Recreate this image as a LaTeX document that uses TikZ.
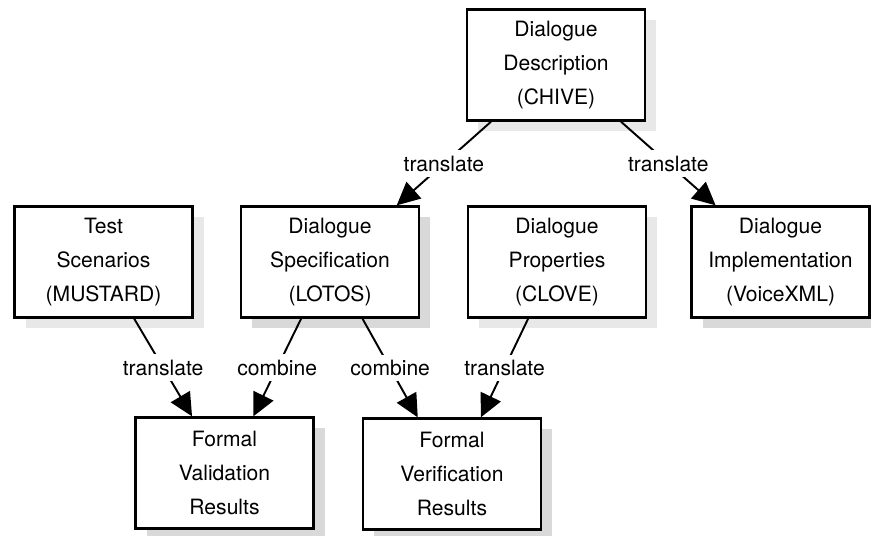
\documentclass[tikz,border=0pt]{standalone}
\usepackage{fontspec}
\setmainfont{TeX Gyre Heros}
\usetikzlibrary{calc}
\usetikzlibrary{arrows.meta}
\usetikzlibrary{shadows}

\tikzset{
  stage/.style={draw, line width=1.3pt, fill=white, minimum width=3.56cm, minimum height=2.22cm,
    align=center, font=\fontsize{12}{19.5}\selectfont,
    drop shadow={shadow xshift=0.22cm, shadow yshift=-0.22cm, fill=black!#1, opacity=1}},
  stage/.default=9,
  link/.style={line width=1.1pt, -{Triangle[length=0.46cm, width=0.44cm]}},
  verb/.style={fill=white, inner sep=3pt, font=\fontsize{12}{14}\selectfont}
}

\begin{document}
\begin{tikzpicture}
			\useasboundingbox (0, 0) rectangle (17.42, 10.72);

			\node[stage] (desc) at (11.12, 9.42) {Dialogue\\Description\\(CHIVE)};
			\node[stage] (test) at (2.07, 5.48) {Test\\Scenarios\\(MUSTARD)};
			\node[stage=15] (spec) at (6.60, 5.48) {Dialogue\\Specification\\(LOTOS)};
			\node[stage] (prop) at (11.14, 5.48) {Dialogue\\Properties\\(CLOVE)};
			\node[stage=15] (impl) at (15.61, 5.48) {Dialogue\\Implementation\\(VoiceXML)};
			\node[stage=15] (valid) at (4.49, 1.26) {Formal\\Validation\\Results};
			\node[stage=15] (verif) at (9.04, 1.24) {Formal\\Verification\\Results};

			\draw[link]($(desc.south west)!0.14!(desc.south east)$)--node[verb]{translate}($(spec.north west)!0.87!(spec.north east)$);
			\draw[link]($(desc.south west)!0.86!(desc.south east)$)--node[verb]{translate}($(impl.north west)!0.14!(impl.north east)$);

			\draw[link]($(test.south west)!0.67!(test.south east)$)--node[verb]{translate}($(valid.north west)!0.32!(valid.north east)$);
			\draw[link]($(spec.south west)!0.34!(spec.south east)$)--node[verb]{combine}($(valid.north west)!0.66!(valid.north east)$);
			\draw[link]($(spec.south west)!0.68!(spec.south east)$)--node[verb]{combine}($(verif.north west)!0.31!(verif.north east)$);
			\draw[link]($(prop.south west)!0.34!(prop.south east)$)--node[verb]{translate}($(verif.north west)!0.66!(verif.north east)$);
		\end{tikzpicture}
\end{document}
